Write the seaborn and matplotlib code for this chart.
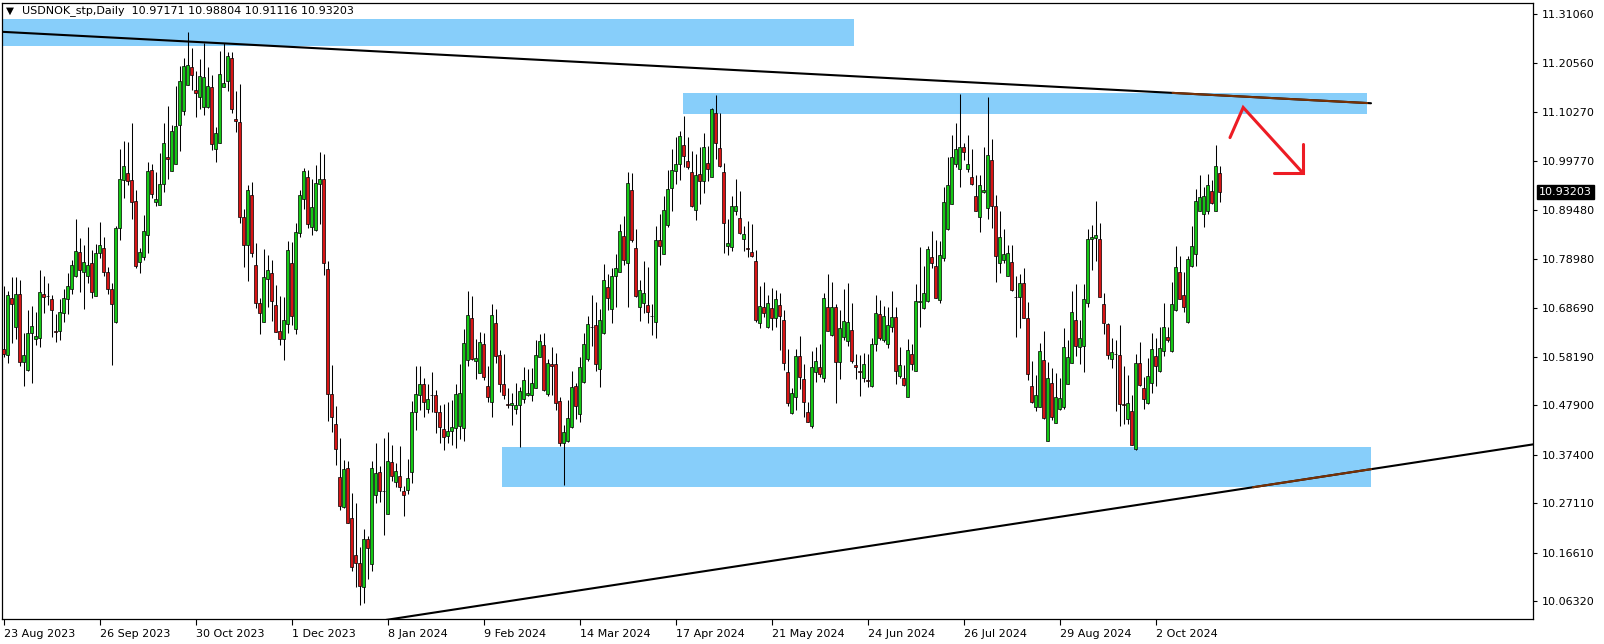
import numpy as np
import matplotlib
matplotlib.use("Agg")
import matplotlib.pyplot as plt
import matplotlib.transforms as mtransforms
from matplotlib.patches import Rectangle
import seaborn as sns
import pandas as pd

# ---------------- data (daily candles, USDNOK) ----------------
opens = [
10.598,10.586,10.707,10.645,10.715,10.571,10.555,10.632,10.620,10.622,
10.716,10.711,10.705,10.637,10.636,10.675,10.705,10.726,10.753,10.805,
10.763,10.754,10.781,10.711,10.802,10.813,10.762,10.726,10.657,10.855,
10.957,10.972,10.957,10.913,10.783,10.794,10.841,10.979,10.912,10.904,
10.949,11.007,10.977,10.991,11.074,11.104,11.159,11.197,11.149,11.135,
11.113,11.114,11.155,11.023,11.037,11.155,11.168,11.217,11.088,11.081,
10.879,10.819,10.925,10.777,10.696,10.657,10.748,10.760,10.692,10.637,
10.619,10.651,10.782,10.641,10.845,10.918,10.964,10.858,10.852,10.949,
10.959,10.768,10.503,10.439,10.326,10.264,10.346,10.239,10.161,10.144,
10.094,10.195,10.142,10.288,10.337,10.297,10.248,10.358,10.316,10.329,
10.297,10.300,10.337,10.465,10.500,10.524,10.471,10.502,10.501,10.465,
10.428,10.414,10.424,10.431,10.436,10.431,10.575,10.664,10.574,10.547,
10.609,10.521,10.487,10.654,10.586,10.524,10.482,10.479,10.471,10.479,
10.492,10.500,10.502,10.516,10.581,10.607,10.503,10.567,10.567,10.489,
10.399,10.404,10.434,10.521,10.460,10.528,10.577,10.645,10.649,10.557,
10.632,10.730,10.683,10.753,10.763,10.839,10.782,10.937,10.813,10.689,
10.696,10.692,10.668,10.656,10.830,10.800,10.862,10.940,10.978,10.992,
11.032,10.999,10.974,10.894,10.970,10.956,10.995,10.965,11.100,11.025,
10.974,10.818,10.815,10.891,10.877,10.833,10.813,10.804,10.786,10.653,
10.687,10.646,10.685,10.664,10.692,10.661,10.549,10.462,10.496,10.584,
10.535,10.465,10.436,10.549,10.560,10.537,10.689,10.629,10.687,10.572,
10.625,10.615,10.639,10.565,10.551,10.537,10.533,10.520,10.609,10.673,
10.618,10.609,10.645,10.666,10.542,10.537,10.496,10.588,10.551,10.699,
10.685,10.701,10.795,10.775,10.702,10.792,10.853,10.906,10.991,10.981,
11.029,10.981,10.965,10.924,10.880,10.933,10.898,11.000,10.903,10.781,
10.787,10.753,10.783,10.710,10.709,10.738,10.665,10.520,10.476,10.476,
10.576,10.404,10.526,10.442,10.471,10.475,10.524,10.570,10.660,10.602,
10.606,10.697,10.832,10.835,10.832,10.694,10.651,10.577,10.588,10.585,
10.481,10.450,10.468,10.387,10.568,10.515,10.483,10.526,10.583,10.552,
10.595,10.625,10.595,10.682,10.762,10.714,10.657,10.775,10.800,10.892,
10.885,10.892,10.935,10.893,10.97171]

highs = [
10.732,10.723,10.751,10.752,10.746,10.632,10.682,10.691,10.677,10.767,
10.754,10.739,10.713,10.674,10.705,10.727,10.760,10.788,10.875,10.834,
10.819,10.858,10.809,10.822,10.869,10.837,10.774,10.739,10.861,11.024,
11.040,11.038,11.079,10.936,10.814,10.884,10.996,10.992,10.974,11.015,
11.079,11.115,11.074,11.158,11.200,11.218,11.273,11.239,11.190,11.215,
11.250,11.199,11.181,11.070,11.232,11.248,11.230,11.229,11.147,11.162,
10.896,10.947,10.954,10.824,10.707,10.811,10.798,10.788,10.735,10.712,
10.710,10.828,10.827,10.866,10.936,10.984,10.979,10.959,10.990,11.017,
11.013,10.785,10.564,10.477,10.409,10.362,10.361,10.292,10.271,10.178,
10.216,10.202,10.361,10.399,10.351,10.410,10.422,10.395,10.356,10.392,
10.307,10.365,10.489,10.562,10.563,10.537,10.524,10.550,10.512,10.480,
10.482,10.487,10.491,10.525,10.567,10.642,10.722,10.712,10.620,10.635,
10.632,10.563,10.695,10.684,10.596,10.589,10.516,10.506,10.526,10.518,
10.561,10.557,10.559,10.617,10.631,10.632,10.578,10.603,10.590,10.496,
10.438,10.491,10.552,10.526,10.581,10.632,10.669,10.714,10.698,10.684,
10.780,10.758,10.770,10.801,10.865,10.881,10.975,10.973,10.854,10.746,
10.786,10.773,10.695,10.860,10.885,10.924,10.979,11.024,11.049,11.061,
11.094,11.049,11.020,11.013,11.029,11.057,11.030,11.111,11.139,11.100,
10.995,10.874,10.924,10.960,10.935,10.860,10.871,10.865,10.809,10.733,
10.742,10.714,10.728,10.724,10.717,10.682,10.598,10.515,10.598,10.627,
10.567,10.487,10.595,10.604,10.609,10.717,10.758,10.742,10.695,10.682,
10.726,10.740,10.696,10.588,10.586,10.590,10.588,10.623,10.714,10.703,
10.691,10.688,10.722,10.687,10.603,10.565,10.620,10.609,10.737,10.816,
10.776,10.818,10.850,10.831,10.829,10.942,11.006,11.054,11.080,11.141,
11.037,11.054,11.023,10.969,10.969,11.029,11.134,11.046,10.926,10.891,
10.853,10.820,10.819,10.753,10.758,10.770,10.698,10.574,10.544,10.611,
10.638,10.571,10.559,10.547,10.537,10.643,10.618,10.721,10.737,10.660,
10.737,10.853,10.862,10.913,10.866,10.717,10.654,10.622,10.618,10.650,
10.563,10.544,10.501,10.588,10.613,10.539,10.580,10.632,10.622,10.646,
10.696,10.646,10.742,10.818,10.796,10.763,10.796,10.860,10.939,10.968,
10.942,10.970,10.957,11.032,10.98804]

lows = [
10.581,10.569,10.611,10.620,10.562,10.521,10.553,10.526,10.608,10.602,
10.675,10.692,10.625,10.613,10.617,10.657,10.673,10.715,10.751,10.719,
10.683,10.739,10.708,10.711,10.793,10.753,10.716,10.564,10.654,10.831,
10.919,10.948,10.876,10.770,10.761,10.788,10.802,10.920,10.903,10.904,
10.932,10.960,10.977,10.991,11.020,11.097,11.159,11.150,11.091,11.108,
11.097,11.110,11.021,10.997,11.036,11.155,11.146,11.100,11.059,10.866,
10.772,10.744,10.795,10.685,10.630,10.657,10.687,10.658,10.634,10.608,
10.576,10.632,10.650,10.630,10.836,10.897,10.855,10.841,10.849,10.865,
10.755,10.445,10.423,10.353,10.257,10.261,10.230,10.128,10.094,10.054,
10.060,10.110,10.126,10.271,10.273,10.204,10.248,10.318,10.305,10.297,
10.243,10.290,10.315,10.426,10.470,10.455,10.462,10.465,10.421,10.400,
10.385,10.400,10.395,10.388,10.408,10.404,10.562,10.576,10.536,10.547,
10.533,10.487,10.455,10.569,10.508,10.492,10.473,10.438,10.461,10.390,
10.485,10.498,10.489,10.516,10.581,10.510,10.498,10.500,10.470,10.393,
10.310,10.402,10.431,10.450,10.443,10.526,10.574,10.606,10.553,10.517,
10.630,10.682,10.654,10.689,10.763,10.777,10.689,10.827,10.710,10.659,
10.675,10.654,10.629,10.622,10.777,10.800,10.859,10.891,10.949,10.957,
10.985,10.982,10.901,10.872,10.906,10.930,10.956,10.965,11.002,10.985,
10.802,10.799,10.808,10.884,10.843,10.806,10.795,10.795,10.657,10.644,
10.666,10.643,10.639,10.646,10.597,10.554,10.478,10.460,10.469,10.513,
10.454,10.443,10.430,10.528,10.540,10.528,10.636,10.627,10.485,10.535,
10.618,10.606,10.569,10.535,10.498,10.528,10.519,10.519,10.595,10.618,
10.613,10.600,10.634,10.525,10.538,10.521,10.496,10.554,10.551,10.646,
10.683,10.698,10.770,10.707,10.697,10.785,10.852,10.906,10.985,10.944,
11.000,10.974,10.947,10.891,10.848,10.930,10.874,10.855,10.742,10.760,
10.781,10.753,10.721,10.625,10.644,10.665,10.533,10.485,10.466,10.476,
10.450,10.404,10.448,10.441,10.469,10.471,10.524,10.570,10.583,10.567,
10.549,10.689,10.767,10.786,10.709,10.630,10.577,10.558,10.468,10.435,
10.439,10.439,10.394,10.384,10.520,10.471,10.481,10.506,10.520,10.549,
10.584,10.613,10.593,10.680,10.705,10.678,10.655,10.774,10.776,10.892,
10.857,10.885,10.907,10.891,10.91116]

closes = [
10.588,10.713,10.695,10.715,10.572,10.586,10.632,10.648,10.627,10.720,
10.710,10.711,10.681,10.635,10.677,10.708,10.733,10.778,10.807,10.766,
10.783,10.778,10.720,10.802,10.819,10.762,10.726,10.695,10.855,10.960,
10.988,10.955,10.911,10.776,10.805,10.849,10.977,10.928,10.917,10.949,
11.036,11.002,11.062,11.072,11.168,11.200,11.202,11.180,11.142,11.178,
11.176,11.157,11.034,11.057,11.183,11.163,11.221,11.108,11.083,10.879,
10.819,10.936,10.802,10.697,10.676,10.751,10.766,10.700,10.635,10.619,
10.660,10.809,10.668,10.847,10.925,10.976,10.865,10.900,10.951,10.961,
10.782,10.504,10.455,10.387,10.266,10.343,10.230,10.135,10.145,10.096,
10.195,10.175,10.346,10.336,10.297,10.297,10.360,10.329,10.339,10.306,
10.288,10.324,10.465,10.503,10.524,10.487,10.492,10.501,10.465,10.432,
10.411,10.424,10.433,10.503,10.505,10.611,10.671,10.578,10.579,10.613,
10.540,10.496,10.671,10.583,10.524,10.500,10.479,10.484,10.479,10.509,
10.533,10.505,10.526,10.586,10.616,10.512,10.569,10.562,10.485,10.399,
10.422,10.452,10.518,10.477,10.561,10.609,10.652,10.645,10.566,10.661,
10.745,10.707,10.753,10.770,10.850,10.787,10.951,10.831,10.712,10.724,
10.717,10.678,10.668,10.830,10.818,10.894,10.939,10.979,10.992,11.051,
11.009,10.985,10.903,10.968,10.956,11.027,10.981,11.108,11.036,10.988,
10.866,10.823,10.902,10.902,10.846,10.843,10.811,10.797,10.661,10.690,
10.675,10.696,10.664,10.704,10.668,10.570,10.485,10.505,10.584,10.539,
10.486,10.443,10.560,10.574,10.546,10.707,10.638,10.689,10.572,10.643,
10.659,10.656,10.574,10.560,10.549,10.566,10.530,10.609,10.675,10.623,
10.668,10.649,10.666,10.551,10.564,10.523,10.597,10.566,10.701,10.700,
10.717,10.811,10.781,10.708,10.799,10.911,10.947,11.006,11.023,11.029,
11.017,10.991,10.949,10.891,10.947,10.936,11.010,10.903,10.797,10.836,
10.801,10.802,10.724,10.709,10.738,10.665,10.545,10.487,10.501,10.595,
10.452,10.537,10.455,10.496,10.494,10.602,10.581,10.677,10.605,10.622,
10.704,10.832,10.837,10.842,10.709,10.655,10.585,10.593,10.588,10.481,
10.479,10.484,10.394,10.568,10.522,10.492,10.542,10.598,10.563,10.600,
10.646,10.617,10.694,10.772,10.706,10.687,10.791,10.818,10.913,10.921,
10.924,10.947,10.908,10.988,10.93203]

price_ticks = [11.31060, 11.20560, 11.10270, 10.99770, 10.89480, 10.78980,
               10.68690, 10.58190, 10.47900, 10.37400, 10.27110, 10.16610, 10.06320]
date_labels = ["23 Aug 2023", "26 Sep 2023", "30 Oct 2023", "1 Dec 2023",
               "8 Jan 2024", "9 Feb 2024", "14 Mar 2024", "17 Apr 2024",
               "21 May 2024", "24 Jun 2024", "26 Jul 2024", "29 Aug 2024",
               "2 Oct 2024"]
date_label_bars = [0, 24, 48, 72, 96, 120, 144, 168, 192, 216, 240, 264, 288]

# zones: (start bar, end bar, low price, high price)
zone_x0 = [-10.0, 169.8, 124.6]
zone_x1 = [212.6, 340.9, 341.9]
zone_lo = [11.243, 11.099, 10.305]
zone_hi = [11.300, 11.143, 10.390]

# trend lines (bar, price endpoints)
top_line_bars = [-0.9, 341.85]
top_line_prices = [11.273, 11.121]
bottom_line_bars = [95.6, 400.0]
bottom_line_prices = [10.023, 10.419]

# hand-drawn red arrow
arrow_bars = [306.6, 309.9, 324.9]
arrow_prices = [11.048, 11.112, 10.972]
arrow_head_bars = [324.9, 324.9, 317.6]
arrow_head_prices = [11.034, 10.972, 10.972]

title_text = "USDNOK_stp,Daily  10.97171 10.98804 10.91116 10.93203"

# ---------------- figure ----------------
sns.set_style("white")
plt.rcParams['font.family'] = ['DejaVu Sans']

W, H = 1604, 644
fig = plt.figure(figsize=(W / 100, H / 100), dpi=100)
ax = fig.add_axes([2 / W, 25 / H, 1531 / W, 616 / H])

df = pd.DataFrame({"bar": np.arange(len(closes)), "open": opens, "high": highs,
                   "low": lows, "close": closes})
bull = df["close"] >= df["open"]

BLUE = "#87cefa"
BROWN = "#783105"
GREEN = "#14c814"
RED = "#d81414"

for x0, x1, lo, hi in zip(zone_x0, zone_x1, zone_lo, zone_hi):
    ax.add_patch(Rectangle((x0, lo), x1 - x0, hi - lo, facecolor=BLUE,
                           edgecolor="none", zorder=0))

# wicks
ax.vlines(df["bar"], df["low"], df["high"], color="black", linewidth=0.75,
          zorder=3)
# bodies
body_bottom = np.minimum(df["open"], df["close"])
body_height = np.abs(df["close"] - df["open"])
ax.bar(df["bar"], body_height, bottom=body_bottom, width=0.8,
       color=np.where(bull, GREEN, RED), edgecolor="black", linewidth=0.5,
       zorder=4)

# trend lines
def seg_in_zone(bx, py, zi):
    """portion of a straight line that lies inside zone zi"""
    b0, b1 = bx
    p0, p1 = py
    slope = (p1 - p0) / (b1 - b0)
    ts = []
    for lvl in (zone_lo[zi], zone_hi[zi]):
        ts.append(b0 + (lvl - p0) / slope)
    lo_b = max(min(ts), zone_x0[zi], b0)
    hi_b = min(max(ts), zone_x1[zi], b1)
    xs = np.array([lo_b, hi_b])
    return xs, p0 + slope * (xs - b0)

line_df = pd.DataFrame({"bar": top_line_bars, "price": top_line_prices})
sns.lineplot(data=line_df, x="bar", y="price", ax=ax, color="black",
             linewidth=1.5, zorder=5)
line_df2 = pd.DataFrame({"bar": bottom_line_bars, "price": bottom_line_prices})
sns.lineplot(data=line_df2, x="bar", y="price", ax=ax, color="black",
             linewidth=1.5, zorder=5)
xs, ys = seg_in_zone(top_line_bars, top_line_prices, 1)
ax.plot(xs, ys, color=BROWN, linewidth=1.5, zorder=6)
xs, ys = seg_in_zone(bottom_line_bars, bottom_line_prices, 2)
ax.plot(xs, ys, color=BROWN, linewidth=1.5, zorder=6)

# red arrow
ax.plot(arrow_bars, arrow_prices, color="#ed1c24", linewidth=2.2, zorder=7,
        solid_joinstyle="miter")
ax.plot(arrow_head_bars, arrow_head_prices, color="#ed1c24", linewidth=2.2,
        zorder=7, solid_joinstyle="miter")

ax.set_xlim(-0.4, 382.35)
ax.set_ylim(10.025, 11.334)
ax.set_xlabel("")
ax.set_ylabel("")

ax.yaxis.tick_right()
ax.set_yticks(price_ticks)
ax.set_yticklabels([f"{v:.5f}" for v in price_ticks])
ax.set_xticks(date_label_bars)
ax.set_xticklabels(date_labels)
for lab in ax.get_xticklabels():
    lab.set_horizontalalignment("left")
ax.tick_params(axis="y", which="both", direction="out", length=3, width=0.8,
               pad=3, labelsize=8, colors="black", left=False, right=True)
ax.tick_params(axis="x", which="both", direction="out", length=4, width=0.8,
               pad=3, labelsize=8, colors="black", bottom=True)
for sp in ax.spines.values():
    sp.set_visible(True)
    sp.set_color("black")
    sp.set_linewidth(0.9)
ax.grid(False)

# last price box
trans = mtransforms.blended_transform_factory(ax.transAxes, ax.transData)
trans = trans + mtransforms.ScaledTranslation(6 / 100, 0, fig.dpi_scale_trans)
ax.text(1.0, closes[-1], f"{closes[-1]:.5f}", transform=trans, ha="left",
        va="center", color="white", fontsize=8, clip_on=False,
        bbox=dict(boxstyle="square,pad=0.2", facecolor="black", edgecolor="black"))

# title
fig.text(6 / W, 1 - 11 / H, "\u25bc", fontsize=7.5, va="center", ha="left", color="black")
fig.text(22 / W, 1 - 11 / H, title_text, fontsize=8, va="center", ha="left",
         color="black")

fig.savefig("out.png", dpi=100, facecolor="white")
